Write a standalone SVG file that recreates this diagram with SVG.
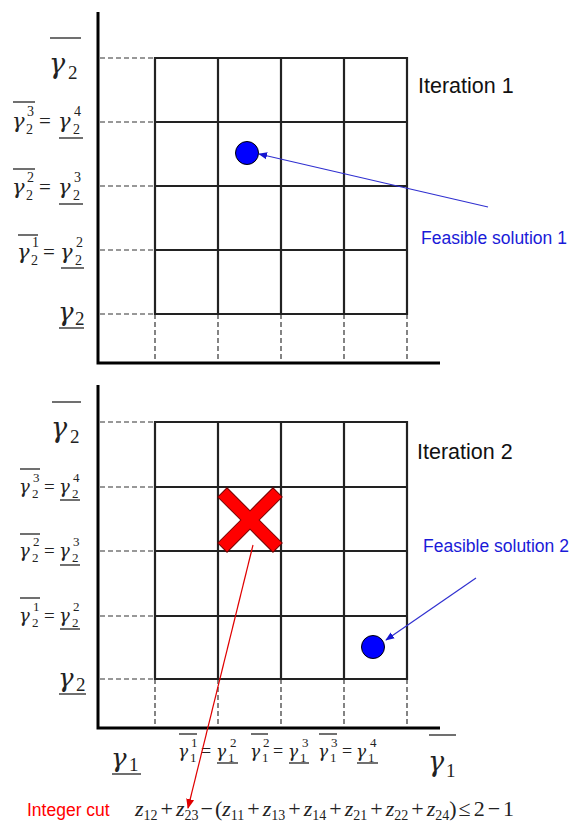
<svg xmlns="http://www.w3.org/2000/svg" width="583" height="827" viewBox="0 0 583 827">
<defs>
<style>
.axis{stroke:#000;stroke-width:3;fill:none}
.grid{stroke:#222;stroke-width:2.2;fill:none}
.dash{stroke:#333;stroke-width:1.2;stroke-dasharray:5,3;fill:none}
.bar{stroke:#222;stroke-width:1.3}
.g{font-family:"DejaVu Serif","Liberation Serif",serif;font-style:italic;fill:#222}
.z{font-family:"Liberation Serif",serif;font-style:italic;fill:#222}
.n{font-family:"Liberation Serif",serif;fill:#222}
.s{font-family:"Liberation Sans",Arial,sans-serif}
</style>
<marker id="ab" viewBox="0 0 10 10" refX="9" refY="5" markerWidth="9" markerHeight="9" markerUnits="userSpaceOnUse" orient="auto"><path d="M0,1 L10,5 L0,9 z" fill="#1515d0"/></marker>
<marker id="ar" viewBox="0 0 10 10" refX="9" refY="5" markerWidth="10" markerHeight="10" markerUnits="userSpaceOnUse" orient="auto"><path d="M0,1 L10,5 L0,9 z" fill="#e00000"/></marker>
</defs>
<rect width="583" height="827" fill="#fff"/>

<!-- Panel 1 -->
<g id="panel1">
<path class="axis" d="M98,12 V363 H440"/>
<path class="dash" d="M100,58 H155 M100,122 H155 M100,186 H155 M100,250 H155 M100,314 H155 M155,314 V362 M218,314 V362 M281,314 V362 M344,314 V362 M407,314 V362"/>
<path class="grid" d="M155,58 H407 V314 H155 Z M155,122 H407 M155,186 H407 M155,250 H407 M218,58 V314 M281,58 V314 M344,58 V314"/>
</g>
<g id="labels1">
<line class="bar" x1="50" y1="38" x2="81" y2="38"/>
<text class="g" x="49" y="73" font-size="27">γ</text><text class="n" x="68" y="79" font-size="19">2</text>

<line class="bar" x1="13" y1="102" x2="35" y2="102"/>
<text class="g" x="12" y="128" font-size="21">γ</text><text class="n" x="26" y="134" font-size="14">2</text><text class="n" x="27" y="116" font-size="14">3</text>
<text class="n" x="39" y="128" font-size="21">=</text>
<text class="g" x="58" y="128" font-size="21">γ</text><text class="n" x="73" y="134" font-size="14">2</text><text class="n" x="74" y="116" font-size="14">4</text>
<line class="bar" x1="59" y1="138" x2="83" y2="138"/>

<line class="bar" x1="13" y1="169" x2="35" y2="169"/>
<text class="g" x="12" y="194" font-size="21">γ</text><text class="n" x="26" y="200" font-size="14">2</text><text class="n" x="27" y="182" font-size="14">2</text>
<text class="n" x="39" y="194" font-size="21">=</text>
<text class="g" x="58" y="194" font-size="21">γ</text><text class="n" x="73" y="200" font-size="14">2</text><text class="n" x="74" y="182" font-size="14">3</text>
<line class="bar" x1="59" y1="204" x2="83" y2="204"/>

<line class="bar" x1="18" y1="235" x2="38" y2="235"/>
<text class="g" x="17" y="259" font-size="21">γ</text><text class="n" x="31" y="265" font-size="14">2</text><text class="n" x="32" y="247" font-size="14">1</text>
<text class="n" x="43" y="259" font-size="21">=</text>
<text class="g" x="60" y="259" font-size="21">γ</text><text class="n" x="75" y="265" font-size="14">2</text><text class="n" x="76" y="247" font-size="14">2</text>
<line class="bar" x1="61" y1="268" x2="84" y2="268"/>

<text class="g" x="58" y="321" font-size="26">γ</text><text class="n" x="75" y="325" font-size="19">2</text>
<line class="bar" x1="59" y1="328" x2="84" y2="328"/>
</g>
<text id="it1" class="s" x="418" y="93" font-size="21.5" fill="#111">Iteration 1</text>
<g id="sol1"><circle cx="247" cy="153" r="11.5" fill="#0000ff" stroke="#000" stroke-width="1"/></g>
<text id="fs1" class="s" x="421" y="244" font-size="17.5" fill="#1a1ad8">Feasible solution 1</text>

<!-- Panel 2 -->
<g id="panel2">
<path class="axis" d="M98,385 V728 H440"/>
<path class="dash" d="M100,422 H155 M100,487 H155 M100,551 H155 M100,616 H155 M100,679 H155 M155,679 V727 M218,679 V727 M281,679 V727 M344,679 V727 M407,679 V727"/>
<path class="grid" d="M155,422 H407 V679 H155 Z M155,487 H407 M155,551 H407 M155,616 H407 M218,422 V679 M281,422 V679 M344,422 V679"/>
</g>
<g id="labels2">
<line class="bar" x1="52" y1="402" x2="81" y2="402"/>
<text class="g" x="51" y="437" font-size="27">γ</text><text class="n" x="70" y="443" font-size="19">2</text>

<line class="bar" x1="20" y1="469" x2="40" y2="469"/>
<text class="g" x="19" y="493" font-size="18">γ</text><text class="n" x="32" y="498" font-size="13">2</text><text class="n" x="33" y="482" font-size="13">3</text>
<text class="n" x="44" y="493" font-size="19">=</text>
<text class="g" x="59" y="493" font-size="18">γ</text><text class="n" x="72" y="498" font-size="13">2</text><text class="n" x="73" y="482" font-size="13">4</text>
<line class="bar" x1="60" y1="500" x2="80" y2="500"/>

<line class="bar" x1="20" y1="534" x2="40" y2="534"/>
<text class="g" x="19" y="557" font-size="18">γ</text><text class="n" x="32" y="562" font-size="13">2</text><text class="n" x="33" y="546" font-size="13">2</text>
<text class="n" x="44" y="557" font-size="19">=</text>
<text class="g" x="59" y="557" font-size="18">γ</text><text class="n" x="72" y="562" font-size="13">2</text><text class="n" x="73" y="546" font-size="13">3</text>
<line class="bar" x1="60" y1="565" x2="80" y2="565"/>

<line class="bar" x1="20" y1="598" x2="40" y2="598"/>
<text class="g" x="19" y="622" font-size="18">γ</text><text class="n" x="32" y="627" font-size="13">2</text><text class="n" x="33" y="611" font-size="13">1</text>
<text class="n" x="44" y="622" font-size="19">=</text>
<text class="g" x="59" y="622" font-size="18">γ</text><text class="n" x="72" y="627" font-size="13">2</text><text class="n" x="73" y="611" font-size="13">2</text>
<line class="bar" x1="60" y1="629" x2="80" y2="629"/>

<text class="g" x="58" y="687" font-size="26">γ</text><text class="n" x="76" y="691" font-size="19">2</text>
<line class="bar" x1="59" y1="694" x2="86" y2="694"/>
</g>
<g id="labelsx">
<text class="g" x="111" y="767" font-size="26">γ</text><text class="n" x="129" y="771" font-size="19">1</text>
<line class="bar" x1="112" y1="774" x2="141" y2="774"/>

<line class="bar" x1="179" y1="734" x2="197" y2="734"/>
<text class="g" x="178" y="757" font-size="17">γ</text><text class="n" x="190" y="762" font-size="13">1</text><text class="n" x="191" y="747" font-size="13">1</text>
<text class="n" x="201" y="757" font-size="18">=</text>
<text class="g" x="216" y="757" font-size="17">γ</text><text class="n" x="228" y="762" font-size="13">1</text><text class="n" x="230" y="747" font-size="13">2</text>
<line class="bar" x1="217" y1="763" x2="238" y2="763"/>

<line class="bar" x1="251" y1="734" x2="268" y2="734"/>
<text class="g" x="250" y="757" font-size="17">γ</text><text class="n" x="262" y="762" font-size="13">1</text><text class="n" x="263" y="747" font-size="13">2</text>
<text class="n" x="273" y="757" font-size="18">=</text>
<text class="g" x="288" y="757" font-size="17">γ</text><text class="n" x="300" y="762" font-size="13">1</text><text class="n" x="302" y="747" font-size="13">3</text>
<line class="bar" x1="289" y1="763" x2="309" y2="763"/>

<line class="bar" x1="319" y1="734" x2="337" y2="734"/>
<text class="g" x="318" y="757" font-size="17">γ</text><text class="n" x="330" y="762" font-size="13">1</text><text class="n" x="331" y="747" font-size="13">3</text>
<text class="n" x="342" y="757" font-size="18">=</text>
<text class="g" x="356" y="757" font-size="17">γ</text><text class="n" x="368" y="762" font-size="13">1</text><text class="n" x="370" y="747" font-size="13">4</text>
<line class="bar" x1="357" y1="763" x2="378" y2="763"/>

<line class="bar" x1="429" y1="735" x2="456" y2="735"/>
<text class="g" x="428" y="771" font-size="27">γ</text><text class="n" x="446" y="777" font-size="19">1</text>
</g>
<text id="it2" class="s" x="417" y="459" font-size="21.5" fill="#111">Iteration 2</text>
<g id="cut"><path transform="translate(250,520) rotate(45)" d="M6.5,-39 V-6.5 H39 V6.5 H6.5 V39 H-6.5 V6.5 H-39 V-6.5 H-6.5 V-39 Z" fill="#ff0000" stroke="#700" stroke-width="1"/></g>
<g id="sol2"><circle cx="373" cy="647" r="11.5" fill="#0000ff" stroke="#000" stroke-width="1"/></g>
<text id="fs2" class="s" x="423" y="552" font-size="17.5" fill="#1a1ad8">Feasible solution 2</text>

<g id="connectors">
<line x1="488" y1="207" x2="259" y2="154" stroke="#3030d0" stroke-width="1.2" marker-end="url(#ab)"/>
<line x1="476" y1="578" x2="386" y2="640" stroke="#3030d0" stroke-width="1.2" marker-end="url(#ab)"/>
<line x1="253" y1="545" x2="188" y2="808" stroke="#e00000" stroke-width="1.2" marker-end="url(#ar)"/>
</g>

<text id="ic" class="s" x="27" y="816" font-size="17.5" fill="#ff0000">Integer cut</text>
<text id="formula" class="n" x="135" y="816" font-size="22"><tspan class="z">z</tspan><tspan font-size="14" dy="4">12</tspan><tspan dy="-4" dx="3">+</tspan><tspan class="z" dx="3">z</tspan><tspan font-size="14" dy="4">23</tspan><tspan dy="-4" dx="2">−</tspan><tspan dx="2">(</tspan><tspan class="z">z</tspan><tspan font-size="14" dy="4">11</tspan><tspan dy="-4" dx="3">+</tspan><tspan class="z" dx="3">z</tspan><tspan font-size="14" dy="4">13</tspan><tspan dy="-4" dx="3">+</tspan><tspan class="z" dx="3">z</tspan><tspan font-size="14" dy="4">14</tspan><tspan dy="-4" dx="3">+</tspan><tspan class="z" dx="3">z</tspan><tspan font-size="14" dy="4">21</tspan><tspan dy="-4" dx="3">+</tspan><tspan class="z" dx="3">z</tspan><tspan font-size="14" dy="4">22</tspan><tspan dy="-4" dx="3">+</tspan><tspan class="z" dx="3">z</tspan><tspan font-size="14" dy="4">24</tspan><tspan dy="-4">)</tspan><tspan dx="2">≤</tspan><tspan dx="3">2</tspan><tspan dx="3">−</tspan><tspan dx="3">1</tspan></text>
</svg>
